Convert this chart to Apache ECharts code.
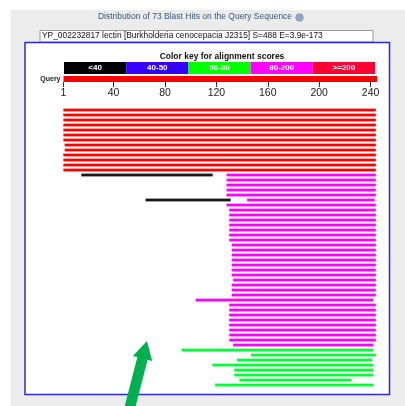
<!DOCTYPE html>
<html>
<head>
<meta charset="utf-8">
<script src="https://cdn.jsdelivr.net/npm/echarts@6/dist/echarts.min.js"></script>
<style>
  html, body { margin: 0; padding: 0; background: #fff; }
  #chart { width: 405px; height: 406px; }
</style>
</head>
<body>
<div id="chart"></div>
<script>
// query and axis
var queryLength = 245;
var tickValues = [1, 40, 80, 120, 160, 200, 240];
var rowCount = 56;

// colour key
var keyLabels = ['<40', '40-50', '50-80', '80-200', '>=200'];
var keyColors = ['#000000', '#3300ff', '#00ff00', '#ff00ff', '#ff0033'];

// hits: [row, start, end]
var redHits = [
  [0, 1, 244], [1, 1, 244], [2, 1, 244], [3, 1, 244], [4, 1, 244],
  [5, 1, 244], [6, 1, 244], [7, 2, 244], [8, 2, 244], [9, 1, 244],
  [10, 1, 244], [11, 1, 244], [12, 1, 244]
];
var blackHits = [[13, 15, 117], [18, 65, 131]];
var magentaHits = [
  [13, 128, 244], [14, 128, 244], [15, 128, 244], [16, 128, 244], [17, 128, 244],
  [18, 144, 243], [19, 128, 244], [20, 130, 244], [21, 130, 244], [22, 130, 244],
  [23, 130, 244], [24, 130, 244], [25, 130, 244], [26, 130, 244], [27, 132, 244],
  [28, 132, 244], [29, 132, 244], [30, 132, 244], [31, 132, 244], [32, 132, 244],
  [33, 132, 244], [34, 133, 244], [35, 132, 244], [36, 132, 244], [37, 132, 244],
  [38, 104, 242], [39, 130, 244], [40, 130, 244], [41, 130, 244], [42, 130, 244],
  [43, 130, 244], [44, 130, 244], [45, 130, 244], [46, 130, 244], [47, 133, 242]
];
var greenHits = [
  [48, 93, 242], [49, 147, 244], [50, 136, 241], [51, 117, 242],
  [52, 134, 242], [53, 134, 242], [54, 138, 225], [55, 119, 242]
];

var font = 'Liberation Sans, Arial, sans-serif';

function hitRenderer(color, edge) {
  return function (params, api) {
    var row = api.value(0);
    var p0 = api.coord([api.value(1), row]);
    var p1 = api.coord([api.value(2), row]);
    var h = api.size([0, 1])[1] * 0.5;
    return {
      type: 'rect',
      shape: { x: p0[0], y: p0[1] - h / 2, width: p1[0] - p0[0], height: h },
      style: { fill: color, stroke: edge, lineWidth: 0.8 }
    };
  };
}

function hitSeries(data, color, edge) {
  return {
    type: 'custom', xAxisIndex: 2, yAxisIndex: 2,
    renderItem: hitRenderer(color, edge),
    data: data, silent: true
  };
}

var rows = [];
for (var i = 0; i < rowCount; i++) rows.push(String(i));

var chart = echarts.init(document.getElementById('chart'));
chart.setOption({
  animation: false,
  backgroundColor: '#ffffff',
  title: [
    {
      text: 'Distribution of 73 Blast Hits on the Query Sequence',
      left: 195, top: 12.5, textAlign: 'center', padding: 0,
      textStyle: { fontFamily: font, fontSize: 8.5, fontWeight: 'normal', color: '#3a5876' }
    },
    {
      text: 'YP_002232817 lectin [Burkholderia cenocepacia J2315] S=488 E=3.9e-173',
      left: 42, top: 32, padding: 0,
      textStyle: { fontFamily: font, fontSize: 8.4, fontWeight: 'normal', color: '#111' }
    },
    {
      text: 'Color key for alignment scores',
      left: 222, top: 52, textAlign: 'center', padding: 0,
      textStyle: { fontFamily: font, fontSize: 8.5, fontWeight: 'bold', color: '#111' }
    }
  ],
  graphic: [
    { type: 'rect', z: -20, shape: { x: 11, y: 10, width: 394, height: 396 }, style: { fill: '#ececec' } },
    { type: 'rect', z: -15, shape: { x: 40, y: 30.5, width: 333, height: 11.5 }, style: { fill: '#fff', stroke: '#9a9a9a', lineWidth: 1 } },
    { type: 'rect', z: -15, shape: { x: 25, y: 42.5, width: 364.5, height: 352 }, style: { fill: '#fff', stroke: '#2b2bd6', lineWidth: 1.5 } },
    { type: 'circle', z: -10, shape: { cx: 299.5, cy: 17.5, r: 3.8 }, style: { fill: '#8fa8c8', stroke: '#6a86ad', lineWidth: 0.6 } },
    {
      type: 'polygon', z: 100,
      shape: { points: [[147, 341], [152.2, 360.9], [147.6, 359.7], [133.9, 412.9], [123.6, 410.3], [137.4, 357.1], [132.8, 355.9]] },
      style: { fill: '#00b050' }
    }
  ],
  grid: [
    { left: 64, width: 311, top: 62, height: 12 },
    { left: 63.5, width: 313.5, top: 76, height: 6 },
    { left: 63.5, width: 313.5, top: 107.5, height: 280 }
  ],
  xAxis: [
    { gridIndex: 0, type: 'value', min: 0, max: keyLabels.length, show: false },
    {
      gridIndex: 1, type: 'value', min: 1, max: queryLength, position: 'bottom',
      axisLine: { show: false },
      splitLine: { show: false },
      axisTick: { show: true, length: 5, customValues: tickValues, lineStyle: { color: '#333', width: 1 } },
      axisLabel: { customValues: tickValues, margin: 6, fontFamily: font, fontSize: 10.5, color: '#222' }
    },
    { gridIndex: 2, type: 'value', min: 1, max: queryLength, show: false }
  ],
  yAxis: [
    { gridIndex: 0, type: 'category', data: ['key'], show: false },
    {
      gridIndex: 1, type: 'category', data: ['Query'],
      axisLine: { show: false }, axisTick: { show: false },
      axisLabel: { margin: 3, fontFamily: font, fontSize: 7, fontWeight: 'bold', color: '#222' }
    },
    { gridIndex: 2, type: 'category', data: rows, inverse: true, show: false }
  ],
  series: [
    {
      type: 'custom', xAxisIndex: 0, yAxisIndex: 0, silent: true,
      data: keyLabels.map(function (l, i) { return [i, l]; }),
      renderItem: function (params, api) {
        var i = api.value(0);
        var p0 = api.coord([i, 0]);
        var p1 = api.coord([i + 1, 0]);
        var h = api.size([0, 1])[1];
        return {
          type: 'rect',
          shape: { x: p0[0], y: p0[1] - h / 2, width: p1[0] - p0[0], height: h },
          style: { fill: keyColors[i] },
          textContent: {
            style: { text: keyLabels[i], fill: '#fff', font: 'bold 8px ' + font }
          },
          textConfig: { position: 'inside' }
        };
      }
    },
    {
      type: 'custom', xAxisIndex: 1, yAxisIndex: 1, silent: true,
      data: [[0, 1, queryLength]],
      renderItem: function (params, api) {
        var p0 = api.coord([api.value(1), 0]);
        var p1 = api.coord([api.value(2), 0]);
        var h = api.size([0, 1])[1];
        return {
          type: 'rect',
          shape: { x: p0[0], y: p0[1] - h / 2, width: p1[0] - p0[0], height: h },
          style: { fill: '#ff0000' }
        };
      }
    },
    hitSeries(redHits, '#ff0000', 'rgba(255,0,0,0.3)'),
    hitSeries(blackHits, '#1a1a1a', 'rgba(0,0,0,0.3)'),
    hitSeries(magentaHits, '#ff00ff', 'rgba(255,0,255,0.3)'),
    hitSeries(greenHits, '#00ff33', 'rgba(0,255,51,0.3)')
  ]
});
</script>
</body>
</html>
